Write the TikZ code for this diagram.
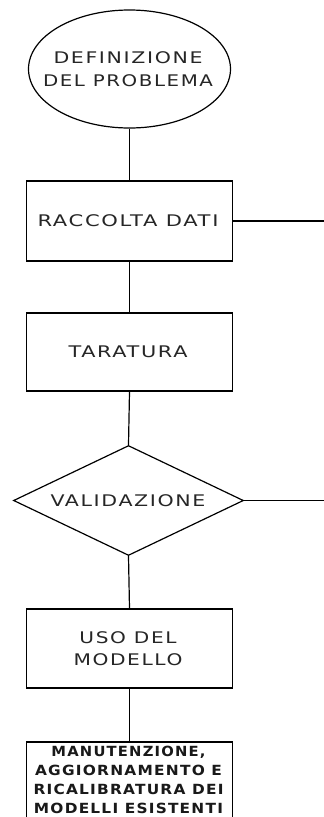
\documentclass[tikz,border=0pt]{standalone}
\usepackage{fontspec}
\usetikzlibrary{shapes.geometric}
\newfontfamily\labfont[LetterSpace=8]{DejaVu Sans}
\newlength\stwlen
\newcommand\stw[2]{\settowidth\stwlen{#2}\pgfmathsetmacro\stwr{#1/\stwlen}\scalebox{\stwr}[1]{#2}}
\begin{document}
\begin{tikzpicture}[x=1pt,y=-1pt,
  flowbox/.style={draw, line width=1.2pt, inner sep=0pt, fill=white},
  box/.style={flowbox, rectangle, minimum width=206pt},
  lbl/.style={font=\labfont\fontsize{16}{22.5}\selectfont, align=center, inner sep=0pt, text=black!85},
  lblb/.style={font=\labfont\bfseries\fontsize{14}{19.2}\selectfont, align=center, inner sep=0pt, text=black!90},
  conn/.style={line width=1.2pt}]
\useasboundingbox (0,0) rectangle (324,817);
\clip (0,0) rectangle (324,817);
\node[flowbox, ellipse, minimum width=202pt, minimum height=118pt] (def) at (129.5,69) {};
\node[box, minimum height=80pt] (rac) at (129.5,221) {};
\node[box, minimum height=78pt] (tar) at (129.5,352) {};
\node[flowbox, diamond, minimum width=230pt, minimum height=110pt] (val) at (128.5,500.5) {};
\node[box, minimum height=79pt] (uso) at (129.5,648.5) {};
\node[box, minimum height=80pt] (man) at (129.5,782) {};
\coordinate (e1) at (324,221);
\coordinate (e2) at (324,500.5);
\draw[conn] (def.south) -- (rac.north);
\draw[conn] (rac.south) -- (tar.north);
\draw[conn] (tar.south) -- (val.north);
\draw[conn] (val.south) -- (uso.north);
\draw[conn] (uso.south) -- (man.north);
\draw[conn] (rac.east) -- (e1);
\draw[conn] (val.east) -- (e2);
\node[lbl] (tdef) at (128,69) {\stw{149}{DEFINIZIONE}\\\stw{170}{DEL PROBLEMA}};
\node[lbl] (trac) at (128,221) {\stw{181}{RACCOLTA DATI}};
\node[lbl] (ttar) at (128,352) {\stw{119}{TARATURA}};
\node[lbl] (tval) at (128,501) {\stw{155}{VALIDAZIONE}};
\node[lbl] (tuso) at (128,648.5) {\stw{97}{USO DEL}\\\stw{109}{MODELLO}};
\node[lblb] (tman) at (128.5,780) {\stw{154}{MANUTENZIONE,}\\\stw{187}{AGGIORNAMENTO E}\\\stw{190}{RICALIBRATURA DEI}\\\stw{189}{MODELLI ESISTENTI}};
\end{tikzpicture}
\end{document}
